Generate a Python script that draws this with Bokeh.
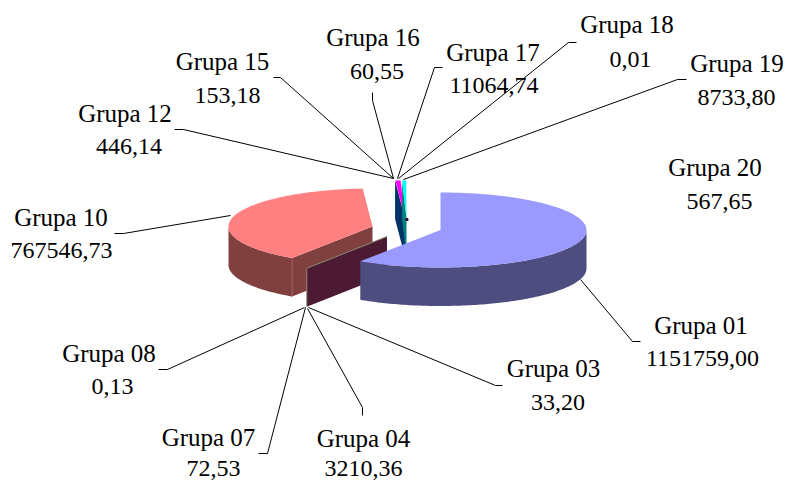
import math
from bokeh.plotting import figure
from bokeh.models import Range1d
from bokeh.core.properties import value
from bokeh.embed import file_html
from bokeh.resources import INLINE

# ---- data
categories = ["Grupa 01", "Grupa 03", "Grupa 04", "Grupa 07", "Grupa 08", "Grupa 10", "Grupa 12",
              "Grupa 15", "Grupa 16", "Grupa 17", "Grupa 18", "Grupa 19", "Grupa 20"]
values = [1151759.00, 33.20, 3210.36, 72.53, 0.13, 767546.73, 446.14,
          153.18, 60.55, 11064.74, 0.01, 8733.80, 567.65]
value_labels = ["1151759,00", "33,20", "3210,36", "72,53", "0,13", "767546,73", "446,14",
                "153,18", "60,55", "11064,74", "0,01", "8733,80", "567,65"]

# ---- layout (pixels of the reference image)
label_name_pos = [(700.5, 325), (553, 368), (363, 438), (208, 437), (108.5, 353), (60.5, 217), (124.5, 113),
                  (222, 61), (372.5, 37), (492.5, 52), (626.5, 24), (736.5, 63), (714.5, 167)]
label_value_pos = [(702, 358), (557.5, 402), (363, 468), (213, 468), (112, 386), (61, 250), (128.5, 146),
                   (227, 95), (376.5, 71), (493.5, 85), (630, 59), (736, 97), (719, 201)]
leaders = [
    [(580, 279), (632, 341), (640, 341)],
    [(308, 307), (495, 385), (502, 385)],
    [(307, 308), (362, 407), (362, 415)],
    [(305, 307), (267, 453), (258, 453)],
    [(304, 307), (167, 369), (158, 369)],
    [(230, 215), (123, 233), (114, 233)],
    [(393, 178), (183, 129), (174, 129)],
    [(393, 178), (280, 77), (273, 77)],
    [(393, 178), (372, 100), (372, 92)],
    [(397, 178), (434, 67), (442, 67)],
    [(398, 178), (568, 42), (576, 42)],
    [(403, 179), (677, 79), (686, 79)],
]
DEPTH = 38.5
BLUE = dict(cx=440, cy=229.5, rx=146, ry=37.5)
PINK = dict(cx=372, cy=226, rx=144, ry=38)
WALL = dict(cx=386.5, cy=236, rx=146, ry=38)
TINY = dict(cx=404.5, cy=218, rx=146, ry=38)
TINY2 = dict(cx=406, cy=218, rx=146, ry=38)

total = sum(values)
edges = [0.0]
for v in values:
    edges.append(edges[-1] + v / total * 360.0)


def rim(g, deg):
    a = math.radians(deg)
    return g["cx"] + g["rx"] * math.sin(a), g["cy"] - g["ry"] * math.cos(a)


def arc(g, a0, a1, step=1.0):
    n = max(1, int(abs(a1 - a0) / step))
    return [rim(g, a0 + (a1 - a0) * i / n) for i in range(n + 1)]


def down(pts):
    return [(x, y + DEPTH) for x, y in pts]


p = figure(width=786, height=481, output_backend="svg", toolbar_location=None,
           x_range=Range1d(0, 786), y_range=Range1d(481, 0),
           x_axis_type=None, y_axis_type=None, min_border=0, outline_line_color=None,
           margin=0)
p.grid.visible = False


def poly(pts, color):
    p.patch([q[0] for q in pts], [q[1] for q in pts], fill_color=color, line_color=None)


def face(a, b, color):
    poly([a, b, (b[0], b[1] + DEPTH), (a[0], a[1] + DEPTH)], color)


# thin slices at the back (Grupa 12 wall, Grupa 17 top, Grupa 19 wall and top)
apex = (TINY["cx"], TINY["cy"])
face(rim(TINY, edges[6]), apex, "#003366")
poly([apex] + arc(TINY, edges[9], edges[10], 0.5), "#FF00FF")
apex2 = (TINY2["cx"], TINY2["cy"])
face(rim(TINY2, edges[11]), apex2, "#008080")
poly([apex2] + arc(TINY2, edges[11], edges[12], 0.5), "#00FFFF")
p.scatter([apex2[0] + 0.5], [apex2[1] + 1], size=2, marker="square", color="#400040")

# Grupa 10: walls and top
pk_a, pk_b = edges[5], edges[6]
side = arc(PINK, pk_a, 270)
poly(side + down(side)[::-1], "#804040")
pk_apex = (PINK["cx"], PINK["cy"])
face(rim(PINK, pk_a), pk_apex, "#804040")
poly([pk_apex] + arc(PINK, pk_a, pk_b), "#FF8080")
pr = rim(PINK, pk_a)
p.line([pr[0], pr[0]], [pr[1], pr[1] + DEPTH], line_color="#A05A5A", line_width=1)

# Grupa 03 / 04 wall with its thin light edge
w_apex = (WALL["cx"], WALL["cy"])
wr = rim(WALL, edges[1])
face(wr, w_apex, "#4D1A33")
p.line([wr[0], wr[0], w_apex[0]], [wr[1] + DEPTH, wr[1], w_apex[1]], line_color="#8C8C70", line_width=1)

# Grupa 01: side and top
b_end = edges[1]
side = arc(BLUE, 90, b_end)
poly(side + down(side)[::-1], "#4D4D80")
poly([(BLUE["cx"], BLUE["cy"])] + arc(BLUE, 0, b_end), "#9999FF")

# leader lines
for pts in leaders:
    p.line([q[0] for q in pts], [q[1] for q in pts], line_color="#000000", line_width=1)

# labels
p.text([q[0] for q in label_name_pos], [q[1] for q in label_name_pos], text=categories,
       text_font=value("Liberation Serif"), text_font_size="25px", text_color="#000000",
       text_align="center", text_baseline="middle")
p.text([q[0] for q in label_value_pos], [q[1] for q in label_value_pos], text=value_labels,
       text_font=value("Liberation Serif"), text_font_size="24px", text_color="#000000",
       text_align="center", text_baseline="middle")

open("out.html", "w").write(file_html(p, INLINE))
